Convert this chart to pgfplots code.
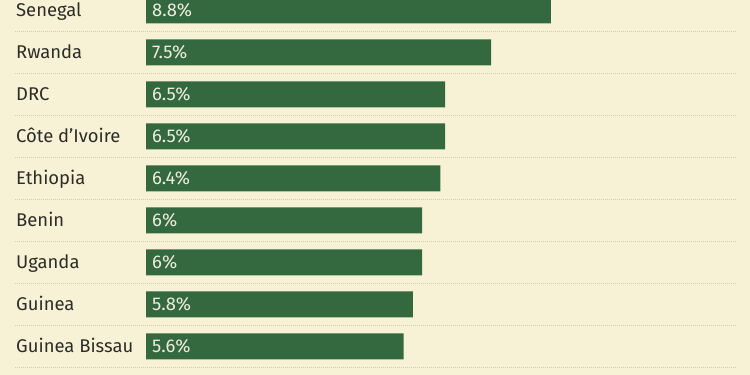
\documentclass[border=0pt]{standalone}
\usepackage{pgfplots}
\pgfplotsset{compat=1.18}
\usepackage{pgfplotstable}
\usepackage{fontspec}
\setmainfont{Fira Sans}
\definecolor{bg}{RGB}{247,242,214}
\definecolor{barc}{RGB}{52,104,62}
\definecolor{labc}{RGB}{45,45,40}
\definecolor{valc}{RGB}{236,238,218}
\definecolor{sepc}{RGB}{212,206,180}

\pgfplotstableread[col sep=comma]{
y,value,name
0,8.8,Senegal
1,7.5,Rwanda
2,6.5,DRC
3,6.5,Côte d'Ivoire
4,6.4,Ethiopia
5,6.0,Benin
6,6.0,Uganda
7,5.8,Guinea
8,5.6,Guinea Bissau
}\data
\pgfplotstableread[col sep=comma]{
y,value
9,5.5
}\cut

\begin{document}
\begin{tikzpicture}
\begin{axis}[
  scale only axis,
  width=750bp, height=375bp,
  xmin=-3.1739, xmax=13.1304,
  ymin=-0.245, ymax=8.683,
  y dir=reverse,
  axis line style={draw=none},
  ticks=none,
  axis background/.style={fill=bg},
  clip=true,
  /pgf/number format/assume math mode=true,
]
% separators
\addplot[sepc, line width=1.2bp, dash pattern=on 1bp off 1bp, forget plot] coordinates {(-2.848,0.5) (12.826,0.5)};
\addplot[sepc, line width=1.2bp, dash pattern=on 1bp off 1bp, forget plot] coordinates {(-2.848,1.5) (12.826,1.5)};
\addplot[sepc, line width=1.2bp, dash pattern=on 1bp off 1bp, forget plot] coordinates {(-2.848,2.5) (12.826,2.5)};
\addplot[sepc, line width=1.2bp, dash pattern=on 1bp off 1bp, forget plot] coordinates {(-2.848,3.5) (12.826,3.5)};
\addplot[sepc, line width=1.2bp, dash pattern=on 1bp off 1bp, forget plot] coordinates {(-2.848,4.5) (12.826,4.5)};
\addplot[sepc, line width=1.2bp, dash pattern=on 1bp off 1bp, forget plot] coordinates {(-2.848,5.5) (12.826,5.5)};
\addplot[sepc, line width=1.2bp, dash pattern=on 1bp off 1bp, forget plot] coordinates {(-2.848,6.5) (12.826,6.5)};
\addplot[sepc, line width=1.2bp, dash pattern=on 1bp off 1bp, forget plot] coordinates {(-2.848,7.5) (12.826,7.5)};
\addplot[sepc, line width=1.2bp, dash pattern=on 1bp off 1bp, forget plot] coordinates {(-2.848,8.5) (12.826,8.5)};
% bars
\addplot[xbar, bar shift=0pt, bar width=26bp, fill=barc, draw=none] table[x=value, y=y] {\data};
\addplot[xbar, bar shift=0pt, bar width=26bp, fill=barc, draw=none] table[x=value, y=y] {\cut};
% value labels
\addplot[draw=none, mark=none, point meta=explicit,
  nodes near coords={\pgfmathprintnumber[assume math mode=true]{\pgfplotspointmeta}\%},
  every node near coord/.append style={anchor=base west, inner sep=0pt, yshift=-6.5bp,
     text=valc, font=\fontsize{18.5}{20}\selectfont}]
  table[x expr=0.13, y=y, meta=value] {\data};
% names
\addplot[draw=none, mark=none, point meta=explicit symbolic,
  nodes near coords,
  every node near coord/.append style={anchor=base west, inner sep=0pt, yshift=-6.5bp,
     text=labc, font=\fontsize{18.5}{20}\selectfont}]
  table[x expr=-2.826, y=y, meta=name] {\data};
\end{axis}
\end{tikzpicture}
\end{document}
